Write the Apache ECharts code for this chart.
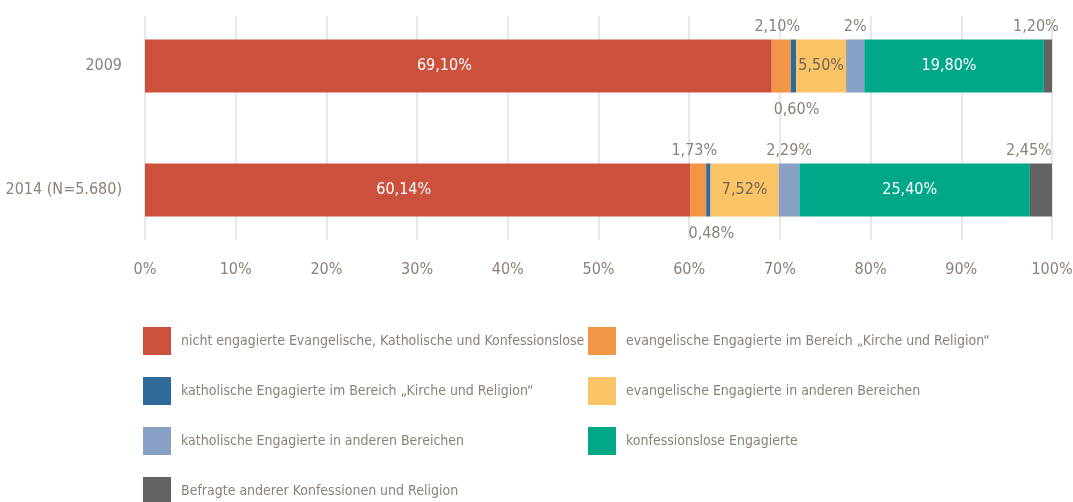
<!DOCTYPE html>
<html>
<head>
<meta charset="utf-8">
<script src="https://cdn.jsdelivr.net/npm/echarts@6/dist/echarts.min.js"></script>
<style>
  html, body { margin: 0; padding: 0; background: #fff; }
  #chart { width: 1073px; height: 502px; }
</style>
</head>
<body>
<div id="chart"></div>
<script>
  var years = ['2009', '2014 (N=5.680)']
  var seriesNames = [
    'nicht engagierte Evangelische, Katholische und Konfessionslose',
    'evangelische Engagierte im Bereich „Kirche und Religion“',
    'katholische Engagierte im Bereich „Kirche und Religion“',
    'evangelische Engagierte in anderen Bereichen',
    'katholische Engagierte in anderen Bereichen',
    'konfessionslose Engagierte',
    'Befragte anderer Konfessionen und Religion'
  ]
  var nichtEngagiert = [69.10, 60.14]
  var evKirche = [2.10, 1.73]
  var kathKirche = [0.60, 0.48]
  var evAndere = [5.50, 7.52]
  var kathAndere = [2.00, 2.29]
  var konfessionslos = [19.80, 25.40]
  var andereKonf = [1.20, 2.45]
  var xTicks = [0, 10, 20, 30, 40, 50, 60, 70, 80, 90, 100]

  var colors = ['#cb513d', '#f39547', '#2e6b9b', '#fbc466', '#87a0c4', '#00a887', '#636363']
  var font = '"DejaVu Sans", sans-serif'
  // font-stretch rides along in the weight slot of the canvas font string
  var stretch = 'condensed'
  var textColor = '#8b8178'

  function fmt (v) {
    if (Math.round(v * 100) % 100 === 0) return Math.round(v) + '%'
    return v.toFixed(2).replace('.', ',') + '%'
  }

  function makeLabel (pos, color, offset) {
    return {
      show: true,
      position: pos,
      color: color,
      fontFamily: font,
      fontWeight: stretch,
      fontSize: 16,
      offset: offset || [0, 0],
      formatter: function (p) { return fmt(p.value) }
    }
  }

  var values = [nichtEngagiert, evKirche, kathKirche, evAndere, kathAndere, konfessionslos, andereKonf]
  var labels = [
    makeLabel('inside', '#ffffff', [-14, 0]),
    makeLabel('top', textColor, [-4, 0]),
    makeLabel('bottom', textColor, [3, 4]),
    makeLabel('inside', '#6f655c'),
    makeLabel('top', textColor),
    makeLabel('inside', '#ffffff', [-5, 0]),
    makeLabel('top', textColor, [-12, 0])
  ]

  var series = values.map(function (d, i) {
    return {
      name: seriesNames[i],
      type: 'bar',
      stack: 'total',
      barWidth: 53,
      xAxisIndex: 0,
      yAxisIndex: 0,
      itemStyle: { color: colors[i] },
      label: labels[i],
      data: d
    }
  })

  function legendAt (left, top, names) {
    return {
      left: left,
      top: top,
      orient: 'vertical',
      itemWidth: 28,
      itemHeight: 28,
      itemGap: 22,
      icon: 'rect',
      textStyle: { color: textColor, fontSize: 14, fontFamily: font, fontWeight: stretch, padding: [0, 0, 0, 5] },
      data: names
    }
  }

  var chart = echarts.init(document.getElementById('chart'))
  chart.setOption({
    animation: false,
    textStyle: { fontFamily: font },
    grid: [
      { left: 145, right: 21, top: 4, height: 248, outerBoundsMode: 'none' },
      { left: 145, right: 21, top: 16, height: 224, outerBoundsMode: 'none' }
    ],
    legend: [
      legendAt(138, 322, [seriesNames[0], seriesNames[2], seriesNames[4]]),
      legendAt(583, 322, [seriesNames[1], seriesNames[3], seriesNames[5]]),
      legendAt(138, 472, [seriesNames[6]])
    ],
    xAxis: [
      {
        gridIndex: 0,
        type: 'value',
        min: 0,
        max: 100,
        show: false
      },
      {
        gridIndex: 1,
        type: 'value',
        min: xTicks[0],
        max: xTicks[xTicks.length - 1],
        interval: 10,
        axisLine: { show: false },
        axisTick: { show: false },
        splitLine: { show: true, lineStyle: { color: '#e8e8e8', width: 2 } },
        axisLabel: {
          color: textColor,
          fontSize: 16,
          fontFamily: font,
          fontWeight: stretch,
          margin: 22,
          formatter: '{value}%'
        }
      }
    ],
    yAxis: [
      {
        gridIndex: 0,
        type: 'category',
        inverse: true,
        data: years,
        axisLine: { show: false },
        axisTick: { show: false },
        axisLabel: { color: textColor, fontSize: 16, fontFamily: font, fontWeight: stretch, margin: 23 }
      },
      {
        gridIndex: 1,
        type: 'value',
        min: 0,
        max: 1,
        show: false
      }
    ],
    series: series
  })
</script>
</body>
</html>
